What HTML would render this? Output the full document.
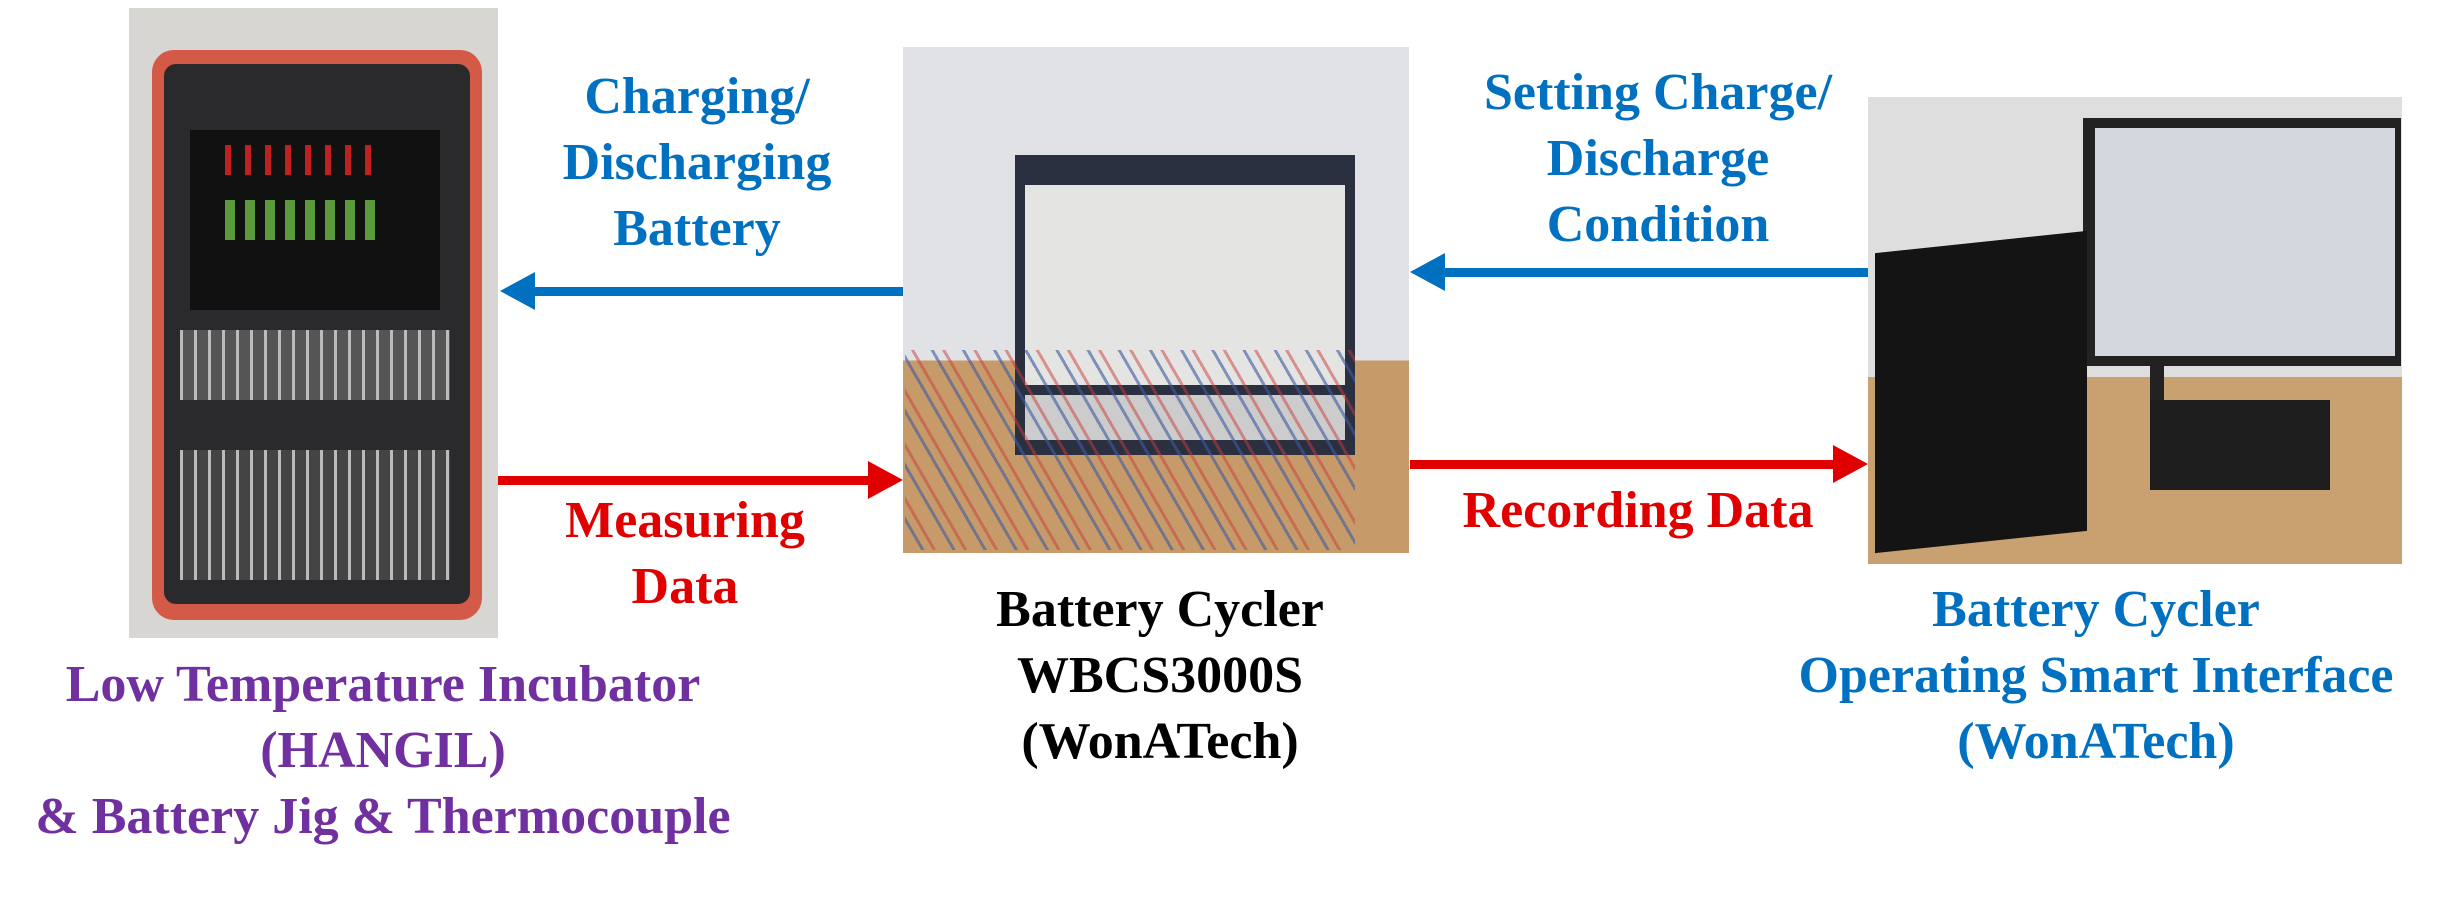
<!DOCTYPE html>
<html><head><meta charset="utf-8"><style>
body{margin:0;width:2441px;height:902px;background:#fff;position:relative;overflow:hidden;font-family:"Liberation Serif",serif;font-weight:bold}
.t{position:absolute;text-align:center;font-size:52px;line-height:66px;white-space:nowrap;transform:translateX(-50%)}
.b{color:#0070c0}.r{color:#e00000}.k{color:#000}.p{color:#7030a0}
.a{position:absolute}
</style></head><body>
<!-- left photo -->
<div class="a" style="left:129px;top:8px;width:369px;height:630px;background:#d8d6d2"></div>
<div class="a" style="left:152px;top:50px;width:330px;height:570px;background:#d45a48;border-radius:22px"></div>
<div class="a" style="left:164px;top:64px;width:306px;height:540px;background:#2a2a2c;border-radius:12px"></div>
<div class="a" style="left:190px;top:130px;width:250px;height:180px;background:#111"></div>
<div class="a" style="left:225px;top:200px;width:150px;height:40px;background:repeating-linear-gradient(90deg,#5a9a3a 0 10px,#111 10px 20px)"></div>
<div class="a" style="left:225px;top:145px;width:150px;height:30px;background:repeating-linear-gradient(90deg,#c02020 0 6px,#111 6px 20px)"></div>
<div class="a" style="left:180px;top:330px;width:270px;height:70px;background:repeating-linear-gradient(90deg,#bbb 0 3px,#555 3px 14px)"></div>
<div class="a" style="left:180px;top:450px;width:270px;height:130px;background:repeating-linear-gradient(90deg,#bbb 0 3px,#444 3px 14px)"></div>
<!-- middle photo -->
<div class="a" style="left:903px;top:47px;width:506px;height:506px;background:linear-gradient(#e0e2e6 0 62%,#c79a6a 62% 100%)"></div>
<div class="a" style="left:1015px;top:155px;width:340px;height:300px;background:#2a3040"></div>
<div class="a" style="left:1025px;top:185px;width:320px;height:200px;background:#e4e4e2"></div>
<div class="a" style="left:1025px;top:395px;width:320px;height:45px;background:#ccc"></div>
<div class="a" style="left:905px;top:350px;width:450px;height:200px;background:repeating-linear-gradient(60deg,transparent 0 14px,rgba(60,90,160,.6) 14px 17px,transparent 17px 24px,rgba(200,60,60,.5) 24px 27px)"></div>
<!-- right photo -->
<div class="a" style="left:1868px;top:97px;width:534px;height:467px;background:linear-gradient(#dedede 0 60%,#c9a070 60% 100%)"></div>
<div class="a" style="left:2083px;top:118px;width:318px;height:248px;background:#222"></div>
<div class="a" style="left:2095px;top:128px;width:300px;height:228px;background:#d4d8de"></div>
<div class="a" style="left:2150px;top:366px;width:14px;height:80px;background:#222"></div>
<div class="a" style="left:2150px;top:400px;width:180px;height:90px;background:#1e1e1e"></div>
<div class="a" style="left:1875px;top:242px;width:212px;height:300px;background:#141414;transform:skewY(-6deg)"></div>
<!-- arrows -->
<svg class="a" style="left:0;top:0" width="2441" height="902">
<g fill="#0070c0"><rect x="530" y="287" width="373" height="9"/><polygon points="500,291 535,272 535,310"/>
<rect x="1440" y="268" width="428" height="9"/><polygon points="1410,272 1445,253 1445,291"/></g>
<g fill="#e00000"><rect x="498" y="476" width="372" height="9"/><polygon points="903,480 868,461 868,499"/>
<rect x="1410" y="460" width="428" height="9"/><polygon points="1868,464 1833,445 1833,483"/></g>
</svg>
<div class="t b" style="left:697px;top:64px">Charging/<br>Discharging<br>Battery</div>
<div class="t b" style="left:1658px;top:60px">Setting Charge/<br>Discharge<br>Condition</div>
<div class="t r" style="left:685px;top:488px">Measuring<br>Data</div>
<div class="t r" style="left:1638px;top:478px">Recording Data</div>
<div class="t k" style="left:1160px;top:577px">Battery Cycler<br>WBCS3000S<br>(WonATech)</div>
<div class="t b" style="left:2096px;top:577px">Battery Cycler<br>Operating Smart Interface<br>(WonATech)</div>
<div class="t p" style="left:383px;top:652px">Low Temperature Incubator<br>(HANGIL)<br>&amp; Battery Jig &amp; Thermocouple</div>
</body></html>
